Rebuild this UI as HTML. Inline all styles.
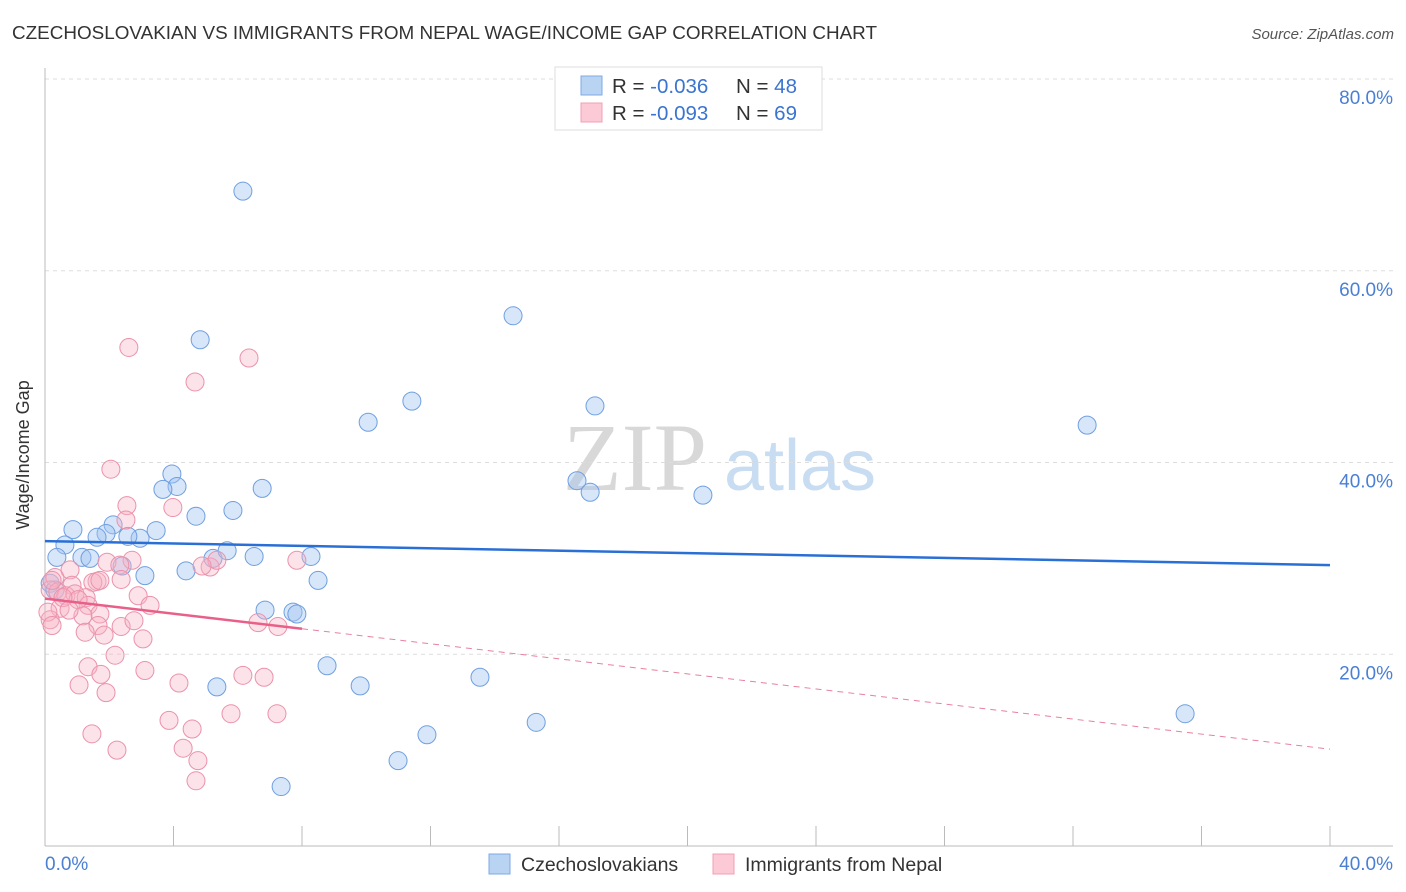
<!DOCTYPE html>
<html><head><meta charset="utf-8"><style>
body{margin:0;background:#fff;font-family:"Liberation Sans",sans-serif;}
svg{display:block}
</style></head><body>
<svg id="chart" width="1406" height="892" xmlns="http://www.w3.org/2000/svg">
<text x="12" y="39" font-size="18" fill="#333" textLength="865" lengthAdjust="spacingAndGlyphs">CZECHOSLOVAKIAN VS IMMIGRANTS FROM NEPAL WAGE/INCOME GAP CORRELATION CHART</text>
<text x="1394" y="39" font-size="15" fill="#555" font-style="italic" text-anchor="end">Source: ZipAtlas.com</text>
<g>
<text x="635" y="490" font-size="96" font-family="Liberation Serif,serif" fill="#d8d8d8" text-anchor="middle">ZIP</text>
<text x="800" y="490" font-size="72" fill="#c8dcf2" text-anchor="middle">atlas</text>
</g>
<g id="grid"></g>
<line x1="45" y1="68" x2="45" y2="846" stroke="#bbb"/>
<line x1="45" y1="846" x2="1393" y2="846" stroke="#bbb"/>
<text x="29" y="455" font-size="18" fill="#333" transform="rotate(-90 29 455)" text-anchor="middle">Wage/Income Gap</text>
<text x="45" y="870" font-size="19" fill="#4a7fd4">0.0%</text>
<text x="1393" y="870" font-size="19" fill="#4a7fd4" text-anchor="end">40.0%</text>
<g id="pts"></g>
<g id="trends"></g>
<g>
<rect x="555" y="67" width="267" height="63" fill="#fff" stroke="#ddd"/>
<rect x="581" y="76" width="21" height="19" fill="#b9d3f3" stroke="#7eaae6"/>
<rect x="581" y="103" width="21" height="19" fill="#fbcad6" stroke="#f0a0b6"/>
<text x="612" y="93" font-size="20.5" fill="#333">R = <tspan fill="#3a74d0">-0.036</tspan><tspan x="736">N = </tspan><tspan fill="#3a74d0">48</tspan></text>
<text x="612" y="120" font-size="20.5" fill="#333">R = <tspan fill="#3a74d0">-0.093</tspan><tspan x="736">N = </tspan><tspan fill="#3a74d0">69</tspan></text>
</g>
<g>
<rect x="489" y="854" width="21" height="20" fill="#b9d3f3" stroke="#7eaae6"/>
<text x="521" y="871" font-size="19.5" fill="#333">Czechoslovakians</text>
<rect x="713" y="854" width="21" height="20" fill="#fbcad6" stroke="#f0a0b6"/>
<text x="745" y="871" font-size="19.5" fill="#333">Immigrants from Nepal</text>
</g>
</svg>
<script>
const yTicks=[20,40,60,80];
const xTicks=[0,4,8,12,16,20,24,28,32,36,40];
const blueX=[6.16,14.57,4.83,11.42,17.12,10.06,32.44,3.95,4.11,3.67,6.76,16.56,16.97,20.48,4.70,5.85,2.12,0.87,1.90,3.46,1.62,0.62,2.96,2.58,0.37,1.15,1.40,5.23,5.67,6.51,8.28,2.40,3.11,4.39,8.50,0.16,0.31,6.85,7.72,7.84,8.78,5.35,9.81,13.54,15.29,11.89,10.99,7.35,35.49];
const blueY=[68.3,55.3,52.8,46.4,45.9,44.2,43.9,38.8,37.5,37.2,37.3,38.1,36.9,36.6,34.4,35.0,33.5,33.0,32.6,32.9,32.2,31.4,32.1,32.3,30.1,30.1,30.0,30.0,30.8,30.2,30.2,29.2,28.2,28.7,27.7,27.4,26.7,24.6,24.4,24.2,18.8,16.6,16.7,17.6,12.9,11.6,8.9,6.2,13.8];
const pinkX=[2.61,6.35,4.67,2.05,2.55,2.52,3.98,2.71,1.93,2.33,5.14,5.35,4.89,7.84,0.31,0.78,1.62,1.49,1.71,0.84,2.37,0.16,0.40,0.65,0.93,1.28,1.34,0.47,1.03,2.90,3.27,1.71,1.18,0.16,2.37,1.65,2.77,1.25,1.84,3.05,6.63,7.25,2.18,1.34,3.11,1.74,6.16,6.82,1.06,4.17,1.90,3.86,5.79,7.22,1.46,4.58,2.24,4.30,4.76,4.70,0.22,0.09,0.22,0.56,0.75];
const pinkY=[52.0,50.9,48.4,39.3,35.5,34.0,35.3,29.8,29.6,29.3,29.1,29.8,29.2,29.8,28.0,28.8,27.6,27.5,27.7,27.2,27.8,26.7,26.5,26.1,26.3,25.9,25.1,24.8,25.7,26.1,25.1,24.2,24.0,23.6,22.9,23.0,23.5,22.3,22.0,21.6,23.3,22.9,19.9,18.7,18.3,17.9,17.8,17.6,16.8,17.0,16.0,13.1,13.8,13.8,11.7,12.2,10.0,10.2,8.9,6.8,27.7,24.4,23.0,25.9,24.6];
const blueTrend=[31.8,29.3];
const pinkTrend=[25.8,10.1];
const pinkSolidEnd=8;
const NS="http://www.w3.org/2000/svg";
const sx=v=>45+v*(1285/40);
const sy=v=>846-v*(767/80);
function mk(t,a,p){const e=document.createElementNS(NS,t);for(const k in a)e.setAttribute(k,a[k]);p.appendChild(e);return e;}
const grid=document.getElementById('grid');
yTicks.forEach(t=>{
 const l=mk('line',{x1:45,x2:1393,y1:sy(t),y2:sy(t),stroke:'#ddd','stroke-dasharray':'4 4'},grid);
 
 
 const tx=mk('text',{x:1393,y:sy(t)+25,'font-size':19,fill:'#4a7fd4','text-anchor':'end'},grid);
 tx.textContent=t.toFixed(1)+'%';
 
 
});
xTicks.forEach(t=>{
 const l=mk('line',{x1:sx(t),x2:sx(t),y1:826,y2:846,stroke:'#bbb'},grid);
 
 
});
const pts=document.getElementById('pts');
blueX.forEach((x,i)=>{
 const c=mk('circle',{cx:sx(x),cy:sy(blueY[i]),r:9,fill:'rgba(160,196,240,0.42)',stroke:'#6f9fe0','stroke-width':1},pts);
 
 
});
pinkX.forEach((x,i)=>{
 const c=mk('circle',{cx:sx(x),cy:sy(pinkY[i]),r:9,fill:'rgba(246,178,198,0.38)',stroke:'#eb92ab','stroke-width':1},pts);
 
 
});
const tr=document.getElementById('trends');
const b=mk('line',{x1:sx(0),y1:sy(blueTrend[0]),x2:sx(40),y2:sy(blueTrend[1]),stroke:'#2a6fd6','stroke-width':2.5},tr);


const pe=pinkTrend[0]+(pinkTrend[1]-pinkTrend[0])*pinkSolidEnd/40;
const p1=mk('line',{x1:sx(0),y1:sy(pinkTrend[0]),x2:sx(pinkSolidEnd),y2:sy(pe),stroke:'#e8608a','stroke-width':2.5},tr);


const p2=mk('line',{x1:sx(pinkSolidEnd),y1:sy(pe),x2:sx(40),y2:sy(pinkTrend[1]),stroke:'#e8809e','stroke-width':1,'stroke-dasharray':'6 5'},tr);


</script>
</body></html>
